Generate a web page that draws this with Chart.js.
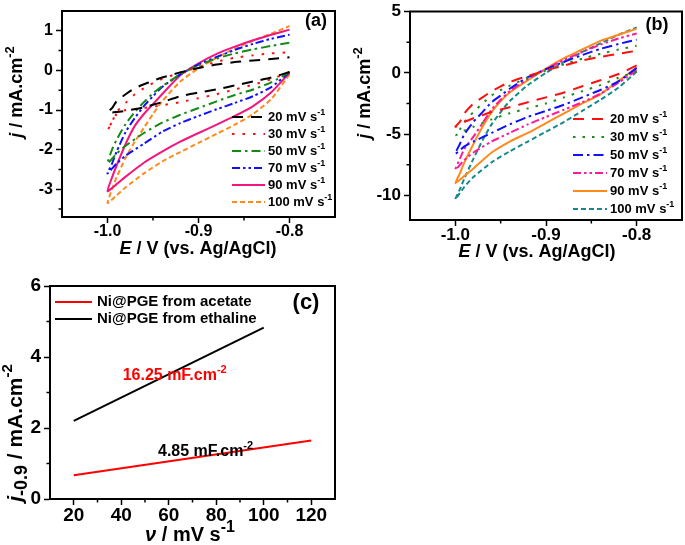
<!DOCTYPE html>
<html>
<head>
<meta charset="utf-8">
<script src="https://cdn.jsdelivr.net/npm/chart.js@4.4.0/dist/chart.umd.min.js"></script>
<style>
  html, body { margin: 0; padding: 0; background: #fff; }
  body { width: 685px; height: 545px; position: relative; overflow: hidden; }
  .panel { position: absolute; }
  #wrapA { left: 0; top: 0; width: 340px; height: 265px; }
  #wrapB { left: 345px; top: 0; width: 340px; height: 265px; }
  #wrapC { left: 0; top: 265px; width: 340px; height: 280px; }
</style>
</head>
<body>
<div class="panel" id="wrapA"><canvas id="chartA"></canvas></div>
<div class="panel" id="wrapB"><canvas id="chartB"></canvas></div>
<div class="panel" id="wrapC"><canvas id="chartC"></canvas></div>
<script>
// Potential sweep: cathodic -0.8 -> -1.0, then anodic back to -0.8 (V vs. Ag/AgCl)
const sweepPotential = [
  -0.80, -0.82, -0.84, -0.86, -0.88, -0.90, -0.92, -0.94, -0.96, -0.98, -0.99, -1.00,
  -0.995, -0.99, -0.98, -0.97, -0.96, -0.95, -0.94, -0.92, -0.90, -0.88, -0.86, -0.84, -0.82, -0.80
];
const scanRates = [20, 30, 50, 70, 90, 100];

// Panel (a) current densities, mA cm-2
const currentA20 = [-0.04, -0.18, -0.28, -0.38, -0.48, -0.56, -0.65, -0.80, -0.93, -1.02, -1.05, -1.06,
  -0.95, -0.78, -0.60, -0.45, -0.35, -0.26, -0.18, -0.05, 0.06, 0.15, 0.21, 0.25, 0.29, 0.33];
const currentA30 = [-0.04, -0.22, -0.36, -0.48, -0.60, -0.70, -0.80, -0.88, -0.95, -1.00, -1.10, -1.52,
  -1.30, -1.05, -0.82, -0.60, -0.45, -0.32, -0.22, -0.05, 0.08, 0.22, 0.32, 0.38, 0.43, 0.46];
const currentA50 = [-0.05, -0.30, -0.48, -0.62, -0.78, -0.95, -1.12, -1.32, -1.58, -1.90, -2.10, -2.35,
  -2.00, -1.75, -1.35, -1.05, -0.80, -0.58, -0.40, -0.10, 0.13, 0.30, 0.43, 0.53, 0.62, 0.70];
const currentA70 = [-0.05, -0.42, -0.65, -0.82, -0.98, -1.15, -1.33, -1.55, -1.85, -2.15, -2.35, -2.60,
  -2.35, -2.05, -1.55, -1.20, -0.90, -0.65, -0.42, -0.10, 0.15, 0.34, 0.52, 0.67, 0.80, 0.90];
const currentA90 = [-0.06, -0.55, -0.90, -1.15, -1.37, -1.58, -1.80, -2.05, -2.33, -2.68, -2.87, -3.05,
  -2.70, -2.40, -1.85, -1.40, -1.10, -0.85, -0.60, -0.12, 0.18, 0.42, 0.60, 0.76, 0.90, 1.03];
const currentA100 = [-0.10, -0.72, -1.10, -1.37, -1.60, -1.83, -2.06, -2.30, -2.60, -2.95, -3.15, -3.35,
  -3.00, -2.70, -2.20, -1.80, -1.45, -1.10, -0.78, -0.28, 0.05, 0.32, 0.55, 0.75, 0.93, 1.12];

// Panel (b) current densities, mA cm-2
const currentB20 = [0.60, -0.10, -0.60, -1.10, -1.60, -2.00, -2.40, -2.80, -3.20, -3.70, -4.00, -4.40,
  -4.00, -3.30, -2.50, -2.00, -1.50, -1.10, -0.75, -0.25, 0.20, 0.60, 1.00, 1.30, 1.55, 1.80];
const currentB30 = [0.10, -0.40, -1.00, -1.50, -2.00, -2.50, -2.90, -3.30, -3.80, -4.40, -4.70, -5.10,
  -4.60, -4.00, -3.20, -2.50, -1.85, -1.40, -1.05, -0.40, 0.20, 0.70, 1.15, 1.55, 1.90, 2.20];
const currentB50 = [0.40, -0.70, -1.40, -2.00, -2.60, -3.10, -3.60, -4.20, -4.90, -5.60, -6.00, -6.60,
  -5.80, -5.00, -4.00, -3.20, -2.40, -1.85, -1.30, -0.35, 0.30, 0.90, 1.45, 1.95, 2.35, 2.70];
const currentB70 = [0.20, -0.80, -1.70, -2.40, -3.00, -3.60, -4.20, -4.90, -5.60, -6.50, -7.10, -7.90,
  -7.00, -6.20, -5.20, -4.10, -3.00, -2.20, -1.50, -0.50, 0.30, 1.05, 1.70, 2.30, 2.80, 3.20];
const currentB90 = [0.40, -0.65, -1.75, -2.50, -3.30, -4.10, -4.90, -5.60, -6.50, -7.80, -8.40, -9.00,
  -8.20, -7.30, -5.80, -4.40, -3.20, -2.30, -1.60, -0.60, 0.35, 1.20, 1.90, 2.60, 3.10, 3.60];
const currentB100 = [0.10, -1.20, -2.20, -3.10, -4.00, -4.80, -5.60, -6.40, -7.30, -8.50, -9.30, -10.30,
  -9.50, -8.60, -7.00, -5.50, -4.20, -3.20, -2.30, -1.00, 0.00, 0.90, 1.70, 2.40, 3.10, 3.70];

// Panel (c) linear fits of j(-0.9 V) vs scan rate
const rateAcetate = [20, 120];
const jAcetate = [0.67, 1.65];
const rateEthaline = [20, 100];
const jEthaline = [2.2, 4.83];

// Tick labels
const ticksAX = [-1.0, -0.9, -0.8];
const ticksAY = [-3, -2, -1, 0, 1];
const ticksBX = [-1.0, -0.9, -0.8];
const ticksBY = [-10, -5, 0, 5];
const ticksCX = [20, 40, 60, 80, 100, 120];
const ticksCY = [0, 2, 4, 6];

const FONT = '"Liberation Sans", Arial, sans-serif';

// ---- rich text helper (italic, super/subscripts) ----
function richFont(part, size) {
  const s = part.sup || part.sub ? Math.round(size * (part.k || 0.7)) : size;
  return (part.it ? 'italic ' : '') + 'bold ' + s + 'px ' + FONT;
}

function drawRich(ctx, x, y, parts, size, opts) {
  opts = opts || {};
  ctx.save();
  ctx.translate(x, y);
  if (opts.rotate) ctx.rotate(opts.rotate);
  ctx.textBaseline = 'middle';
  ctx.textAlign = 'left';
  const widths = parts.map((p) => {
    ctx.font = richFont(p, size);
    return ctx.measureText(p.t).width;
  });
  const total = widths.reduce((a, b) => a + b, 0);
  let cx = opts.align === 'left' ? 0 : -total / 2;
  parts.forEach((p, i) => {
    ctx.font = richFont(p, size);
    ctx.fillStyle = p.color || opts.color || '#000';
    const dy = p.sup ? -size * 0.38 : p.sub ? size * 0.3 : 0;
    ctx.fillText(p.t, cx, dy);
    cx += widths[i];
  });
  ctx.restore();
}

// ---- frame, minor ticks, titles, legends ----
const decorPlugin = {
  id: 'decor',
  afterDraw(chart, args, opts) {
    const ctx = chart.ctx;
    const area = chart.chartArea;
    const sx = chart.scales.x;
    const sy = chart.scales.y;
    ctx.save();
    ctx.strokeStyle = '#000';
    ctx.lineWidth = 2;
    ctx.strokeRect(area.left, area.top, area.right - area.left, area.bottom - area.top);
    ctx.lineWidth = 1.5;
    ctx.beginPath();
    (opts.minorX || []).forEach((v) => {
      const px = sx.getPixelForValue(v);
      ctx.moveTo(px, area.bottom);
      ctx.lineTo(px, area.bottom + 3.5);
    });
    (opts.minorY || []).forEach((v) => {
      const py = sy.getPixelForValue(v);
      ctx.moveTo(area.left, py);
      ctx.lineTo(area.left - 3.5, py);
    });
    ctx.stroke();
    ctx.restore();

    (opts.titles || []).forEach((t) => {
      drawRich(ctx, t.x, t.y, t.parts, t.size, { rotate: t.rotate, color: t.color });
    });

    (opts.notes || []).forEach((n) => {
      drawRich(ctx, sx.getPixelForValue(n.xv), sy.getPixelForValue(n.yv), n.parts, n.size, { color: n.color });
    });

    const lg = opts.legend;
    if (lg) {
      chart.data.datasets.forEach((ds, i) => {
        const y = lg.y + i * lg.step;
        ctx.save();
        ctx.strokeStyle = ds.borderColor;
        ctx.lineWidth = ds.borderWidth;
        ctx.setLineDash(ds.borderDash || []);
        ctx.beginPath();
        ctx.moveTo(lg.x, y);
        ctx.lineTo(lg.x + lg.lineLen, y);
        ctx.stroke();
        ctx.restore();
        drawRich(ctx, lg.x + lg.lineLen + lg.gap, y, ds.legendParts, lg.size, { align: 'left' });
      });
    }
  }
};

// ---- builders ----
function cvDataset(currents, rate, color, dash) {
  return {
    label: rate + ' mV s-1',
    legendParts: [{ t: rate + ' mV s' }, { t: '-1', sup: true }],
    data: sweepPotential.map((e, i) => ({ x: e, y: currents[i] })),
    borderColor: color,
    borderDash: dash,
    borderWidth: 2,
    showLine: true,
    pointRadius: 0,
    tension: 0.2,
    fill: false
  };
}

function axis(min, max, tickValues, size, decimals, fitSize, horizontal) {
  return {
    type: 'linear',
    min: min,
    max: max,
    afterBuildTicks: (s) => { s.ticks = tickValues.map((v) => ({ value: v })); },
    afterFit: (s) => {
      if (horizontal) s.height = fitSize; else s.width = fitSize;
    },
    grid: { drawOnChartArea: false, drawTicks: true, tickLength: 6, tickColor: '#000', tickWidth: 1.5 },
    border: { display: true, color: '#000', width: 2 },
    ticks: {
      color: '#000',
      padding: horizontal ? 1 : 3,
      maxRotation: 0,
      autoSkip: false,
      font: { family: FONT, size: size, weight: 'bold', lineHeight: 1 },
      callback: (v) => Number(v).toFixed(decimals)
    }
  };
}

function baseOptions(padding, scales, decor) {
  return {
    responsive: true,
    maintainAspectRatio: false,
    animation: false,
    devicePixelRatio: 1,
    layout: { padding: padding },
    scales: scales,
    plugins: { legend: { display: false }, tooltip: { enabled: false }, decor: decor }
  };
}

const jTitle = [{ t: 'j', it: true }, { t: ' / mA.cm' }, { t: '-2', sup: true }];
const eTitle = [{ t: 'E', it: true }, { t: ' / V (vs. Ag/AgCl)' }];

// ---- panel (a) ----
new Chart(document.getElementById('chartA'), {
  type: 'scatter',
  data: {
    datasets: [
      cvDataset(currentA20, scanRates[0], '#000000', [11, 8]),
      cvDataset(currentA30, scanRates[1], '#ff1010', [2.5, 8]),
      cvDataset(currentA50, scanRates[2], '#138a13', [9, 4, 2.5, 4]),
      cvDataset(currentA70, scanRates[3], '#1010ff', [8, 3, 2.5, 3, 2.5, 3]),
      cvDataset(currentA90, scanRates[4], '#f4157f', []),
      cvDataset(currentA100, scanRates[5], '#ff8a1c', [5, 3])
    ]
  },
  options: baseOptions({ top: 8, right: 5, left: 0, bottom: 0 }, {
    x: axis(-1.05, -0.75, ticksAX, 16, 1, 48, true),
    y: axis(-3.7, 1.5, ticksAY, 16, 0, 62, false)
  }, {
    minorX: [-0.95, -0.85],
    minorY: [-3.5, -2.5, -1.5, -0.5, 0.5],
    titles: [
      { x: 198, y: 249, size: 18, parts: eTitle },
      { x: 17, y: 92, size: 18, rotate: -Math.PI / 2, parts: jTitle },
      { x: 316, y: 21, size: 18, parts: [{ t: '(a)' }] }
    ],
    legend: { x: 232, y: 117, step: 17, lineLen: 33, gap: 3, size: 13 }
  }),
  plugins: [decorPlugin]
});

// ---- panel (b) ----
new Chart(document.getElementById('chartB'), {
  type: 'scatter',
  data: {
    datasets: [
      cvDataset(currentB20, scanRates[0], '#ff1010', [11, 8]),
      cvDataset(currentB30, scanRates[1], '#1f8a1f', [2.5, 7]),
      cvDataset(currentB50, scanRates[2], '#1010ff', [10, 4, 2.5, 4]),
      cvDataset(currentB70, scanRates[3], '#ff1a9a', [8, 3, 2.5, 3, 2.5, 3]),
      cvDataset(currentB90, scanRates[4], '#ff8a1c', []),
      cvDataset(currentB100, scanRates[5], '#168a8a', [5, 3])
    ]
  },
  options: baseOptions({ top: 9, right: 3, left: 0, bottom: 0 }, {
    x: axis(-1.05, -0.75, ticksBX, 17, 1, 45, true),
    y: axis(-12, 5, ticksBY, 17, 0, 65, false)
  }, {
    minorX: [-0.95, -0.85],
    minorY: [-7.5, -2.5, 2.5],
    titles: [
      { x: 192, y: 252, size: 18, parts: eTitle },
      { x: 20, y: 93, size: 18, rotate: -Math.PI / 2, parts: jTitle },
      { x: 312, y: 25, size: 18, parts: [{ t: '(b)' }] }
    ],
    legend: { x: 228, y: 119, step: 18, lineLen: 34, gap: 3, size: 13 }
  }),
  plugins: [decorPlugin]
});

// ---- panel (c) ----
new Chart(document.getElementById('chartC'), {
  type: 'scatter',
  data: {
    datasets: [
      {
        label: 'Ni@PGE from acetate',
        legendParts: [{ t: 'Ni@PGE from acetate' }],
        data: rateAcetate.map((r, i) => ({ x: r, y: jAcetate[i] })),
        borderColor: '#ff0000', borderWidth: 2, showLine: true, pointRadius: 0
      },
      {
        label: 'Ni@PGE from ethaline',
        legendParts: [{ t: 'Ni@PGE from ethaline' }],
        data: rateEthaline.map((r, i) => ({ x: r, y: jEthaline[i] })),
        borderColor: '#000000', borderWidth: 2, showLine: true, pointRadius: 0
      }
    ]
  },
  options: baseOptions({ top: 21, right: 5, left: 0, bottom: 0 }, {
    x: axis(10, 130, ticksCX, 19, 0, 46, true),
    y: axis(0, 6, ticksCY, 19, 0, 50, false)
  }, {
    minorX: [30, 50, 70, 90, 110],
    minorY: [1, 3, 5],
    titles: [
      { x: 190, y: 270, size: 20, parts: [{ t: 'ν', it: true }, { t: ' / mV s' }, { t: '-1', sup: true, k: 0.8 }] },
      { x: 16, y: 168, size: 21, rotate: -Math.PI / 2,
        parts: [{ t: 'j', it: true }, { t: '-0.9', sub: true, k: 0.85 }, { t: ' / mA.cm' }, { t: '-2', sup: true }] },
      { x: 306, y: 38, size: 22, parts: [{ t: '(c)' }] }
    ],
    notes: [
      { xv: 62.5, yv: 3.47, size: 16, color: '#ff0000', parts: [{ t: '16.25 mF.cm' }, { t: '-2', sup: true }] },
      { xv: 75.5, yv: 1.33, size: 16, color: '#000', parts: [{ t: '4.85 mF.cm' }, { t: '-2', sup: true }] }
    ],
    legend: { x: 55, y: 37, step: 17, lineLen: 37, gap: 5, size: 15 }
  }),
  plugins: [decorPlugin]
});
</script>
</body>
</html>
